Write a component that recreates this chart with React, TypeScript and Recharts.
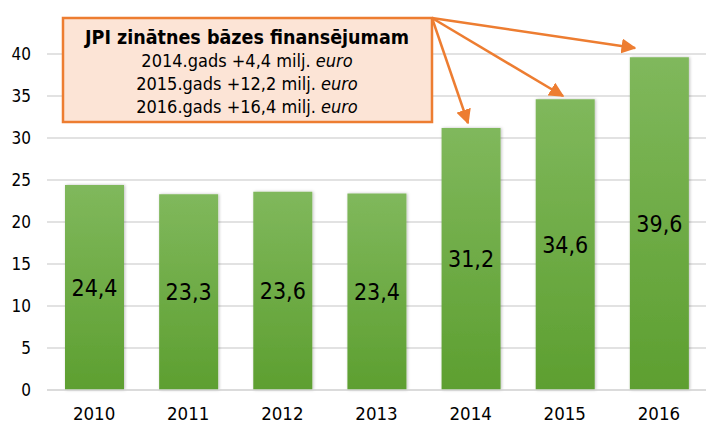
import React from 'react';
import { BarChart, Bar, XAxis, YAxis, CartesianGrid, LabelList } from 'recharts';

const years = ['2010', '2011', '2012', '2013', '2014', '2015', '2016'];
const funding = [24.4, 23.3, 23.6, 23.4, 31.2, 34.6, 39.6];
const yTicks = [0, 5, 10, 15, 20, 25, 30, 35, 40];
const noteTitle = 'JPI zinātnes bāzes finansējumam';
const noteLines = [
  { year: '2014.gads', add: '+4,4 milj.' },
  { year: '2015.gads', add: '+12,2 milj.' },
  { year: '2016.gads', add: '+16,4 milj.' },
];

const data = years.map((y, i) => ({ year: y, value: funding[i] }));

const FONT = '"DejaVu Sans Condensed", "DejaVu Sans", Tahoma, sans-serif';
const ORANGE = '#ed7d31';

const XTick = (props: any) => {
  const { x, payload } = props;
  // baseline sits just above the bottom edge, as in the source picture
  return (
    <text x={x} y={420} textAnchor="middle" fontFamily={FONT} fontSize={18.5} fill="#000">
      {payload.value}
    </text>
  );
};

const YTick = (props: any) => {
  const { x, y, payload } = props;
  return (
    <text x={x - 8} y={y + 6} textAnchor="end" fontFamily={FONT} fontSize={17} fill="#000">
      {payload.value}
    </text>
  );
};

const fmt = (v: any) => String(v).replace('.', ',');

export default function App() {
  return (
    <div style={{ position: 'absolute', left: 0, top: 0, width: 706, height: 425, background: '#fff' }}>
      <BarChart width={706} height={425} data={data} margin={{ top: 54, right: 0, bottom: 0, left: 0 }} barSize={59}>
        <defs>
          <linearGradient id="barGrad" x1="0" y1="0" x2="0" y2="1">
            <stop offset="0%" stopColor="#80b85c" />
            <stop offset="100%" stopColor="#5d9f30" />
          </linearGradient>
          <filter id="shadow" x="-20%" y="-5%" width="140%" height="110%">
            <feDropShadow dx="1" dy="0" stdDeviation="1.5" floodColor="#000" floodOpacity="0.25" />
          </filter>
        </defs>
        <CartesianGrid vertical={false} stroke="#d9d9d9" strokeWidth={1.3} />
        <XAxis dataKey="year" axisLine={{ stroke: '#d9d9d9', strokeWidth: 1.3 }} tickLine={false} height={35} tick={<XTick />} interval={0} />
        <YAxis domain={[0, 40]} ticks={yTicks} axisLine={false} tickLine={false} width={47} tick={<YTick />} />
        <Bar dataKey="value" fill="url(#barGrad)" isAnimationActive={false} filter="url(#shadow)">
          <LabelList dataKey="value" position="center" formatter={fmt} fill="#000" fontSize={23} fontFamily={FONT} />
        </Bar>
      </BarChart>
      <svg width={706} height={425} style={{ position: 'absolute', left: 0, top: 0, pointerEvents: 'none' }}>
        <defs>
          <marker id="arrow" viewBox="0 0 10 10" refX="9" refY="5" markerWidth="6" markerHeight="6" orient="auto">
            <path d="M0,0 L10,5 L0,10 z" fill={ORANGE} />
          </marker>
        </defs>
        <rect x={63} y={18} width={369} height={104} fill="#fce4d6" stroke={ORANGE} strokeWidth={2.5} />
        <text x={247} y={44} textAnchor="middle" fontFamily={FONT} fontWeight="bold" fontSize={19.5} fill="#000">
          {noteTitle}
        </text>
        {noteLines.map((l, i) => (
          <text key={l.year} x={247} y={67 + i * 23} textAnchor="middle" fontFamily={FONT} fontSize={18} fill="#000">
            {l.year} {l.add} <tspan fontStyle="italic">euro</tspan>
          </text>
        ))}
        <line x1={432} y1={18} x2={468} y2={123} stroke={ORANGE} strokeWidth={2.5} markerEnd="url(#arrow)" />
        <line x1={432} y1={18} x2={563} y2={96} stroke={ORANGE} strokeWidth={2.5} markerEnd="url(#arrow)" />
        <line x1={432} y1={18} x2={635} y2={48} stroke={ORANGE} strokeWidth={2.5} markerEnd="url(#arrow)" />
      </svg>
    </div>
  );
}
